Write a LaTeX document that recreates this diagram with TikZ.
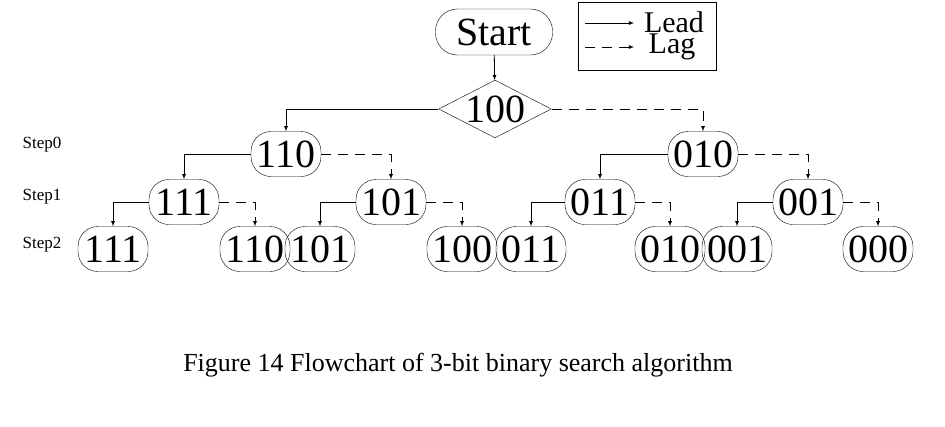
\documentclass[tikz,border=0pt]{standalone}
\usepackage{fontspec}
\setmainfont{Liberation Serif}
\usetikzlibrary{shapes.geometric,positioning,arrows}
\tikzset{>=latex}
\tikzset{
  state/.style={draw,rounded corners=20pt,inner sep=0pt,minimum width=70pt,minimum height=45pt,font=\fontsize{40}{40}\selectfont},
  lead/.style={->,thick},
  lag/.style={->,thick,dash pattern=on 10pt off 7pt},
}
\begin{document}
\begin{tikzpicture}[x=1pt,y=-1pt]
            \useasboundingbox (0,0) rectangle (945,426);

            \node[draw,rounded corners=22pt,minimum width=117pt,minimum height=46pt,inner sep=0pt,font=\fontsize{40}{40}\selectfont] (start) at (494,32) {Start};
            \node[draw,diamond,aspect=1.95,minimum width=85pt,minimum height=44pt,inner sep=0pt,font=\fontsize{40}{40}\selectfont] (root) at (495,109) {100};

            % legend
            \draw[thick] (578,2) rectangle (716,70);
            \coordinate (la) at (585,23);
            \coordinate (lb) at (634,23);
            \coordinate (lc) at (585,47);
            \coordinate (ld) at (634,47);
            \draw[lead] (la) -- (lb);
            \draw[lag] (lc) -- (ld);
            \node[font=\fontsize{30}{30}\selectfont] (lead) at (674,22) {Lead};
            \node[font=\fontsize{30}{30}\selectfont] (lag) at (672,47) {Lag};

            % steps
            \node[font=\fontsize{17}{17}\selectfont] (st0) at (42,145) {Step0};
            \node[font=\fontsize{17}{17}\selectfont] (st1) at (42,197) {Step1};
            \node[font=\fontsize{17}{17}\selectfont] (st2) at (42,245) {Step2};

            \node[state] (a) at (286,154) {110};
            \node[state] (b) at (703,154) {010};

            \node[state] (aa) at (184,202) {111};
            \node[state] (ab) at (391,202) {101};
            \node[state] (ba) at (600,202) {011};
            \node[state] (bb) at (808,202) {001};

            \node[state] (aaa) at (113,249) {111};
            \node[state] (aab) at (255,249) {110};
            \node[state] (aba) at (320,249) {101};
            \node[state] (abb) at (462,249) {100};
            \node[state] (baa) at (531,249) {011};
            \node[state] (bab) at (670,249) {010};
            \node[state] (bba) at (737,249) {001};
            \node[state] (bbb) at (878,249) {000};

            \draw[lead] (start) -- (root);
            \draw[lead] (root.west) -| (a.north);
            \draw[lag] (root.east) -| (b.north);

            \foreach \p/\l/\r in {a/aa/ab,b/ba/bb,aa/aaa/aab,ab/aba/abb,ba/baa/bab,bb/bba/bbb}
            {
            \draw[lead] (\p.west) -| (\l.north);
            \draw[lag] (\p.east) -| (\r.north);
            }

            \node[font=\fontsize{26}{26}\selectfont] (cap) at (458,365) {Figure 14 Flowchart of 3-bit binary search algorithm};
\end{tikzpicture}
\end{document}
